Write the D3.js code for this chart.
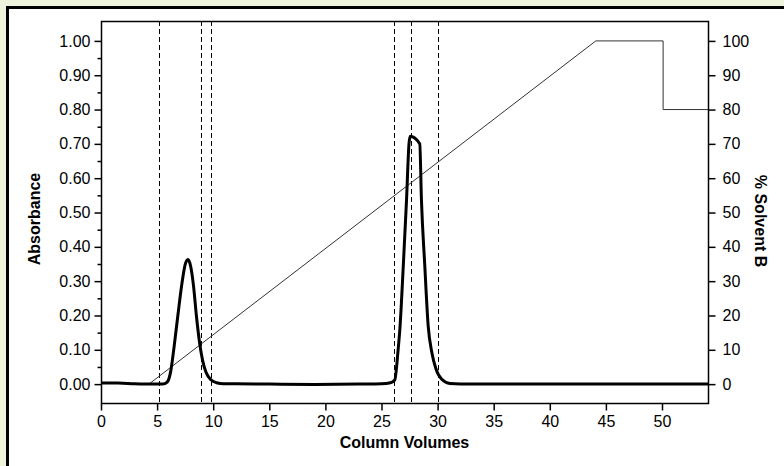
<!doctype html>
<html>
<head>
<meta charset="utf-8">
<script src="https://d3js.org/d3.v7.min.js"></script>
<style>
  body { margin: 0; background: #eef5dc; }
  svg { display: block; font-family: "Liberation Sans", Arial, sans-serif; }
</style>
</head>
<body>
<svg id="svg1" width="784" height="466"></svg>
<script>
// absorbance trace (column volumes, absorbance)
let absCV  = [0, 1.5, 3, 4.5, 5.5, 5.9, 6.2, 6.5, 6.85, 7.2, 7.5, 7.75, 8.0, 8.25, 8.5, 8.79, 9.05, 9.35, 9.83, 10.3, 10.9, 12, 15, 19, 23, 25, 25.8, 26.18, 26.48, 26.63, 26.95, 27.23, 27.45, 27.55, 28.41, 28.56, 28.85, 29.16, 29.5, 29.85, 30.35, 31.1, 33, 40, 54.1];
let absVal = [0.003, 0.003, 0.001, 0.0, 0.0, 0.006, 0.035, 0.105, 0.2, 0.29, 0.348, 0.363, 0.342, 0.285, 0.2, 0.12, 0.07, 0.035, 0.012, 0.004, 0.001, 0.001, 0.0, -0.001, 0.0, 0.001, 0.004, 0.012, 0.10, 0.157, 0.35, 0.536, 0.70, 0.722, 0.70, 0.536, 0.35, 0.17, 0.09, 0.045, 0.015, 0.002, 0.0, 0.0, 0.0];

// gradient (% solvent B)
let gradCV  = [4.27, 44.1, 50.1, 50.1, 54.1];
let gradVal = [0, 100, 100, 80, 80];

// fraction marks
let fractions = [5.2, 8.9, 9.8, 26.1, 27.6, 30.0];

let xTicks = [0, 5, 10, 15, 20, 25, 30, 35, 40, 45, 50];
let yTicks = [0, 0.1, 0.2, 0.3, 0.4, 0.5, 0.6, 0.7, 0.8, 0.9, 1.0];
let yMinor = [0.05, 0.15, 0.25, 0.35, 0.45, 0.55, 0.65, 0.75, 0.85, 0.95];
let y2Ticks = [0, 10, 20, 30, 40, 50, 60, 70, 80, 90, 100];

let svg = d3.select("#svg1");
let margin = { top: 21, left: 101, right: 76, bottom: 63 };
let width = 784, height = 466;

// white panel with black border on top and left
svg.append("rect").attr("x", 0).attr("y", 0).attr("width", width).attr("height", height).attr("fill", "#eef5dc");
svg.append("rect").attr("x", 7.5).attr("y", 7.5).attr("width", width).attr("height", height)
  .attr("fill", "#fff").attr("stroke", "#000").attr("stroke-width", 3);

let xScale = d3.scaleLinear().domain([0, 54.1]).range([margin.left, width - margin.right]);
let yScale = d3.scaleLinear().domain([-0.055, 1.058]).range([height - margin.bottom, margin.top]);
let y2Scale = d3.scaleLinear().domain([-5.5, 105.8]).range([height - margin.bottom, margin.top]);

let x0 = margin.left, x1 = width - margin.right, yb = height - margin.bottom, yt = margin.top;

// fraction lines
svg.selectAll(".frac").data(fractions).join("line")
  .attr("x1", d => Math.round(xScale(d)) + 0.5).attr("x2", d => Math.round(xScale(d)) + 0.5)
  .attr("y1", yt).attr("y2", yb)
  .attr("stroke", "#000").attr("stroke-width", 1).attr("stroke-dasharray", "5,3");

// gradient line
let gradData = gradCV.map((d, i) => [d, gradVal[i]]);
svg.append("path").datum(gradData)
  .attr("d", d3.line().x(d => xScale(d[0])).y(d => y2Scale(d[1])))
  .attr("fill", "none").attr("stroke", "#333").attr("stroke-width", 1);

// absorbance trace
let absData = absCV.map((d, i) => [d, absVal[i]]);
svg.append("path").datum(absData)
  .attr("d", d3.line().curve(d3.curveMonotoneX).x(d => xScale(d[0])).y(d => yScale(d[1])))
  .attr("fill", "none").attr("stroke", "#000").attr("stroke-width", 3).attr("stroke-linejoin", "round");

// frame
svg.append("rect").attr("x", x0 + 0.5).attr("y", yt + 0.5).attr("width", x1 - x0).attr("height", yb - yt)
  .attr("fill", "none").attr("stroke", "#000").attr("stroke-width", 1.5);

// axes
let xAxis = svg.append("g").attr("transform", `translate(0,${yb + 0.5})`)
  .call(d3.axisBottom(xScale).tickValues(xTicks).tickSize(7).tickPadding(5).tickFormat(d3.format("d")));
let yAxis = svg.append("g").attr("transform", `translate(${x0 + 0.5},0)`)
  .call(d3.axisLeft(yScale).tickValues(yTicks).tickSize(7).tickPadding(4).tickFormat(d3.format(".2f")));
let yAxisMinor = svg.append("g").attr("transform", `translate(${x0 + 0.5},0)`)
  .call(d3.axisLeft(yScale).tickValues(yMinor).tickSize(4).tickFormat(""));
let y2Axis = svg.append("g").attr("transform", `translate(${x1 + 0.5},0)`)
  .call(d3.axisRight(y2Scale).tickValues(y2Ticks).tickSize(7).tickPadding(7).tickFormat(d3.format("d")));

[xAxis, yAxis, yAxisMinor, y2Axis].forEach(g => {
  g.select(".domain").remove();
  g.selectAll("line").attr("stroke", "#000").attr("stroke-width", 1.5);
  g.selectAll("text").attr("font-size", 16).attr("font-family", "Liberation Sans, Arial, sans-serif").attr("fill", "#000");
});

// titles
svg.append("text").attr("x", (x0 + x1) / 2).attr("y", 448).attr("text-anchor", "middle")
  .attr("font-size", 16).attr("font-weight", "bold").text("Column Volumes");
svg.append("text").attr("transform", `translate(40,219) rotate(-90)`).attr("text-anchor", "middle")
  .attr("font-size", 16).attr("font-weight", "bold").text("Absorbance");
svg.append("text").attr("transform", `translate(755,221) rotate(90)`).attr("text-anchor", "middle")
  .attr("font-size", 16).attr("font-weight", "bold").text("% Solvent B");
</script>
</body>
</html>
